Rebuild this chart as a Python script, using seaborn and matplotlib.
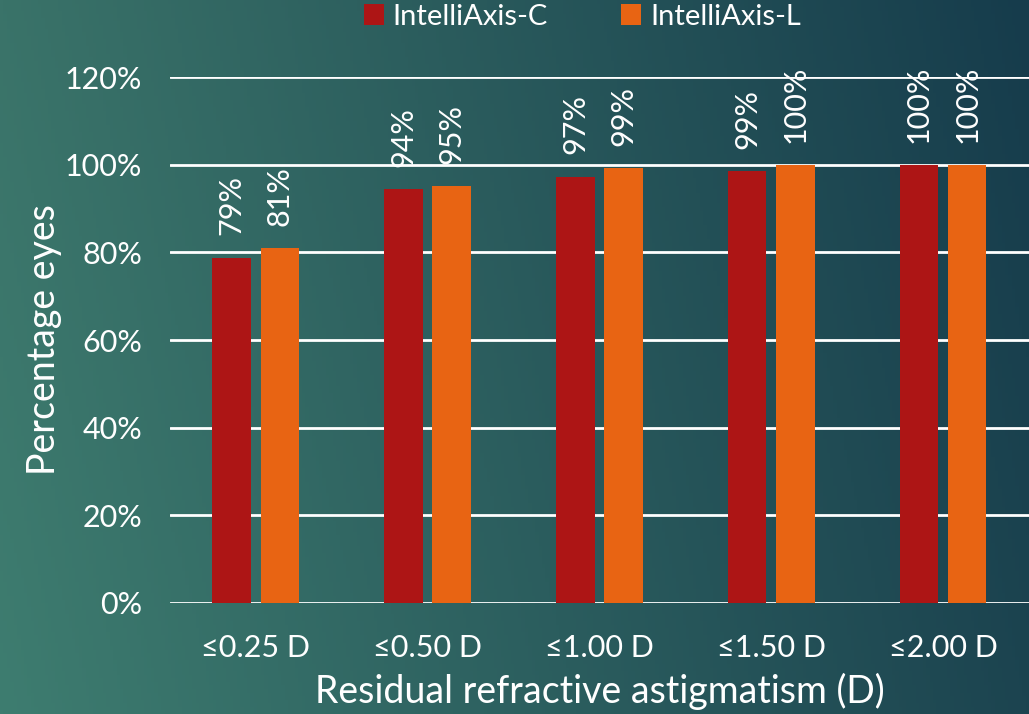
import numpy as np
import pandas as pd
import seaborn as sns
import matplotlib.pyplot as plt
from matplotlib.ticker import FuncFormatter

categories = ["≤0.25 D", "≤0.50 D", "≤1.00 D", "≤1.50 D", "≤2.00 D"]
series_names = ["IntelliAxis-C", "IntelliAxis-L"]
values_c = [78.8, 94.4, 97.3, 98.6, 100.0]
values_l = [81.0, 95.2, 99.3, 100.0, 100.0]
yticks = [0, 20, 40, 60, 80, 100, 120]

df = pd.DataFrame({
    "cat": categories * 2,
    "val": values_c + values_l,
    "series": [series_names[0]] * 5 + [series_names[1]] * 5,
})

sns.set_theme(style="white")
plt.rcParams["font.family"] = ["Lato", "DejaVu Sans"]

fig = plt.figure(figsize=(10.29, 7.14), dpi=100)

# gradient background
bg = fig.add_axes([0, 0, 1, 1], zorder=-1)
xx, yy = np.meshgrid(np.linspace(0, 1, 300), np.linspace(0, 1, 200))
tl = np.array([58, 115, 105]) / 255
bl = np.array([62, 125, 112]) / 255
tr = np.array([22, 60, 76]) / 255
br = np.array([28, 68, 80]) / 255
img = ((1 - xx)[..., None] * ((1 - yy)[..., None] * tl + yy[..., None] * bl)
       + xx[..., None] * ((1 - yy)[..., None] * tr + yy[..., None] * br))
bg.imshow(img, aspect="auto", extent=[0, 1, 0, 1])
bg.axis("off")

ax = fig.add_axes([0.165, 0.1555, 0.835, 0.7365])
ax.set_facecolor("none")
sns.barplot(data=df, x="cat", y="val", hue="series",
            palette=["#AD1515", "#E86413"], saturation=1,
            width=0.56, gap=0.2, linewidth=0, edgecolor="none",
            ax=ax, zorder=3)

for cont, vals in zip(ax.containers, [values_c, values_l]):
    ax.bar_label(cont, labels=[f"{v:.0f}%" for v in vals], rotation=90,
                 padding=16, color="white", fontsize=22)

ax.set_ylim(0, 120)
ax.set_xlim(-0.5, 4.5)
ax.set_yticks(yticks)
ax.yaxis.set_major_formatter(FuncFormatter(lambda v, p: f"{v:.0f}%"))
ax.grid(axis="y", color="white", linewidth=2, zorder=0)
ax.set_axisbelow(True)
for s in ax.spines.values():
    s.set_visible(False)
ax.tick_params(colors="white", labelsize=22, length=0)
ax.tick_params(axis="x", pad=22)
ax.tick_params(axis="y", pad=20)
ax.set_xlabel("Residual refractive astigmatism (D)", color="white", fontsize=27, labelpad=8)
ax.set_ylabel("Percentage eyes", color="white", fontsize=27, labelpad=2)

sns.move_legend(ax, "lower center", bbox_to_anchor=(0.48, 1.04), ncol=2,
                frameon=False, title=None, fontsize=21, labelcolor="white",
                handlelength=0.7, handleheight=0.7, handletextpad=0.3,
                columnspacing=2.5)

fig.savefig("out.png", dpi=100)
